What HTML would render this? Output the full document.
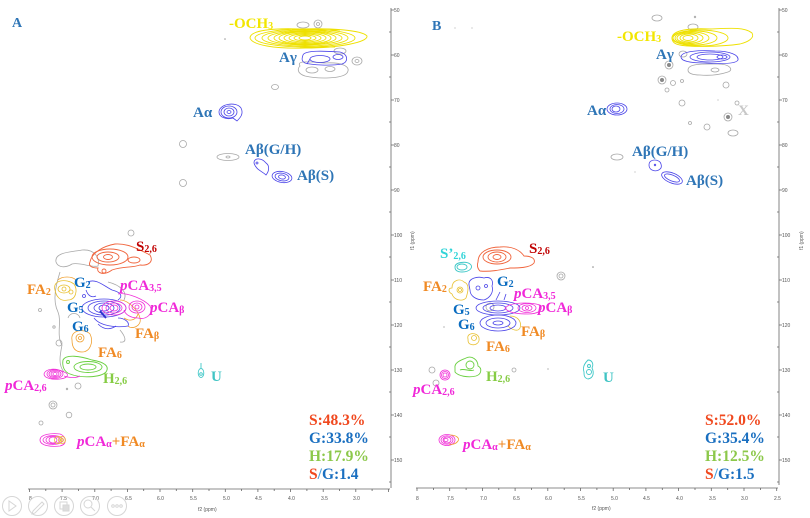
<!DOCTYPE html>
<html><head><meta charset="utf-8"><style>
html,body{margin:0;padding:0;background:#fff;}
svg{display:block;}
.lb{font-family:"Liberation Serif",serif;font-weight:bold;font-size:15px;}
.tk{font-family:"Liberation Sans",sans-serif;font-size:5px;fill:#555;}
.g{fill:none;stroke:#a8a8a8;stroke-width:0.8;}
.y{fill:none;stroke:#eee000;stroke-width:0.9;}
.bl{fill:none;stroke:#4a44e8;stroke-width:0.8;}
.r{fill:none;stroke:#f0643c;stroke-width:0.9;}
.o{fill:none;stroke:#f0a030;stroke-width:0.8;}
.yo{fill:none;stroke:#e8c030;stroke-width:0.8;}
.m{fill:none;stroke:#f030d8;stroke-width:0.8;}
.gr{fill:none;stroke:#6ad040;stroke-width:0.9;}
.c{fill:none;stroke:#40c8c8;stroke-width:0.9;}
.ax{stroke:#666;stroke-width:0.8;fill:none;}
</style></head><body>
<svg width="810" height="518" viewBox="0 0 810 518" xmlns="http://www.w3.org/2000/svg">
<rect width="810" height="518" fill="#fff"/>

<!-- ========== PANEL A AXES ========== -->
<line class="ax" x1="391" y1="8" x2="391" y2="488"/>
<line class="ax" x1="28" y1="489" x2="390" y2="489"/>
<g class="ax">
<path d="M391 10h3M391 55h3M391 100h3M391 145h3M391 190h3M391 235h3M391 280h3M391 325h3M391 370h3M391 415h3M391 460h3"/>
<path d="M389 32h2M389 77h2M389 122h2M389 167h2M389 212h2M389 257h2M389 302h2M389 347h2M389 392h2M389 437h2M389 482h2"/>
<path d="M29.5 489v3M45.8 489v2M62.1 489v3M78.4 489v2M94.8 489v3M111.1 489v2M127.4 489v3M143.7 489v2M160 489v3M176.3 489v2M192.7 489v3M209 489v2M225.3 489v3M241.6 489v2M257.9 489v3M274.2 489v2M290.6 489v3M306.9 489v2M323.2 489v3M339.5 489v2M355.8 489v3M372.1 489v2M388.4 489v3"/>
</g>
<g class="tk">
<text x="394" y="12">50</text><text x="394" y="57">60</text><text x="394" y="102">70</text><text x="394" y="147">80</text><text x="394" y="192">90</text><text x="394" y="237">100</text><text x="394" y="282">110</text><text x="394" y="327">120</text><text x="394" y="372">130</text><text x="394" y="417">140</text><text x="394" y="462">150</text>
<text x="29" y="500">8</text><text x="60" y="500">7.5</text><text x="92" y="500">7.0</text><text x="125" y="500">6.5</text><text x="157" y="500">6.0</text><text x="190" y="500">5.5</text><text x="223" y="500">5.0</text><text x="255" y="500">4.5</text><text x="288" y="500">4.0</text><text x="321" y="500">3.5</text><text x="353" y="500">3.0</text>
<text x="198" y="511">f2 (ppm)</text>
<text transform="translate(414,250) rotate(-90)">f1 (ppm)</text>
</g>

<!-- toolbar circles -->
<g fill="none" stroke="#d6d6d6" stroke-width="1">
<circle cx="12" cy="506" r="9.5"/><circle cx="38" cy="506" r="9.5"/><circle cx="64" cy="506" r="9.5"/><circle cx="90" cy="506" r="9.5"/><circle cx="117" cy="506" r="9.5"/>
<path d="M9 501v10l7-5z"/>
<path d="M33 511l9-9 2 2-9 9-3 1z"/>
<rect x="60" y="502" width="7" height="7"/><rect x="63" y="505" width="6" height="6" fill="#ddd"/>
<circle cx="88" cy="504" r="4"/><path d="M91 507l4 4"/>
<circle cx="113" cy="506" r="1.3"/><circle cx="117" cy="506" r="1.3"/><circle cx="121" cy="506" r="1.3"/>
</g>

<!-- ========== PANEL A CONTOURS ========== -->
<!-- OCH3 -->
<g class="g">
<ellipse cx="303" cy="25" rx="6" ry="3"/><ellipse cx="318" cy="24" rx="4" ry="4"/><ellipse cx="318" cy="24" rx="1.5" ry="1.5"/>
<ellipse cx="357" cy="61" rx="5" ry="4"/><ellipse cx="357" cy="61" rx="2" ry="1.5"/>
<ellipse cx="340" cy="51" rx="6" ry="3"/>
<path d="M300 66 C296 60 310 62 325 63 C340 62 352 66 347 73 C342 79 318 79 305 76 C296 73 298 68 300 66Z"/>
<ellipse cx="312" cy="70" rx="6" ry="3"/><ellipse cx="330" cy="69" rx="5" ry="2.5"/>
<ellipse cx="275" cy="87" rx="3.5" ry="2.5"/>
<circle cx="183" cy="144" r="3.5"/><circle cx="183" cy="183" r="3.5"/>
<ellipse cx="228" cy="157" rx="11" ry="3.5"/><ellipse cx="228" cy="157" rx="2" ry="1"/>
</g>
<circle cx="225" cy="39" r="0.8" fill="#999"/>
<g class="y">
<path d="M250 38 C250 30 275 28 300 29 C330 28 362 30 367 36 C368 42 340 48 305 48 C275 49 252 45 250 38Z"/>
<ellipse cx="305" cy="38" rx="50" ry="9"/><ellipse cx="305" cy="38" rx="43" ry="8"/><ellipse cx="305" cy="38" rx="37" ry="7"/>
<ellipse cx="305" cy="38" rx="31" ry="6.5"/><ellipse cx="305" cy="38" rx="26" ry="6"/><ellipse cx="305" cy="38" rx="21" ry="5"/>
<ellipse cx="305" cy="38" rx="16" ry="4"/><ellipse cx="305" cy="38" rx="11" ry="3"/><ellipse cx="305" cy="38" rx="6" ry="2"/>
<path d="M292 30 L340 30 M300 47 L335 47"/>
</g>
<!-- Aγ -->
<g class="bl">
<path d="M303 55 C305 50 325 51 340 52 C348 54 349 62 342 64 C330 66 312 65 305 63 C301 61 302 58 303 55Z"/>
<ellipse cx="320" cy="59" rx="10" ry="3.5"/><ellipse cx="338" cy="57" rx="5" ry="2.5"/>
<path d="M307 64 L310 59"/>
</g>
<!-- Aα -->
<g class="bl">
<path d="M219 112 C219 104 236 101 241 108 C244 114 240 118 237 121 L233 118 C226 120 219 117 219 112Z"/>
<ellipse cx="229" cy="112" rx="8" ry="6"/><ellipse cx="229" cy="112" rx="5" ry="4"/><ellipse cx="229" cy="112" rx="2" ry="1.5"/>
</g>
<!-- Aβ -->
<g class="bl">
<path d="M254 163 C254 157 262 158 266 163 C269 165 270 170 266 175 C262 171 256 170 254 163Z"/>
<circle cx="257" cy="163" r="1"/>
<ellipse cx="282" cy="177" rx="10" ry="5.5" transform="rotate(10 282 177)"/>
<ellipse cx="282" cy="177" rx="7" ry="3.8" transform="rotate(10 282 177)"/>
<ellipse cx="282" cy="177" rx="3.5" ry="2" transform="rotate(10 282 177)"/>
</g>

<!-- Lower A -->
<g class="g">
<circle cx="131" cy="233" r="3"/>
<path d="M56 262 C54 252 72 252 82 250 C95 249 100 258 98 266 C92 268 80 262 72 264 C66 268 58 268 56 262Z"/>
<path d="M60 272 C56 285 52 300 58 312 C62 322 56 335 62 345 C60 355 58 365 64 372 M108 282 C120 285 128 292 124 300 M120 330 C125 336 128 343 120 342"/>
<path d="M68 318 C70 312 78 312 80 318"/>
<circle cx="59" cy="343" r="3"/><circle cx="40" cy="310" r="1.5"/><circle cx="54" cy="327" r="1.2"/>
<circle cx="78" cy="386" r="3"/><circle cx="67" cy="389" r="0.8"/>
<circle cx="53" cy="405" r="4"/><circle cx="53" cy="405" r="2"/><circle cx="69" cy="415" r="2.8"/><circle cx="41" cy="423" r="2"/>
</g>
<g class="r">
<path d="M90 262 C92 252 104 246 115 244 C128 243 140 250 150 255 C154 262 148 266 140 265 C132 268 124 266 112 270 C104 276 96 273 98 268 C92 268 88 266 90 262Z"/>
<ellipse cx="110" cy="257" rx="18" ry="8"/><ellipse cx="108" cy="257" rx="11" ry="5"/><ellipse cx="108" cy="257" rx="4.5" ry="2.5"/>
<ellipse cx="134" cy="260" rx="6" ry="3"/><circle cx="104" cy="271" r="2"/>
</g>
<g class="yo">
<path d="M55 290 C52 280 66 278 74 284 C78 290 76 300 68 300 C60 302 56 296 55 290Z"/>
<ellipse cx="64" cy="289" rx="6" ry="4"/><circle cx="64" cy="289" r="2"/><circle cx="71" cy="292" r="2"/>
</g>
<g class="o">
<path d="M58 280 C62 276 72 276 76 280"/>
<path d="M72 340 C70 330 84 328 90 334 C94 342 90 352 82 352 C74 352 72 346 72 340Z"/>
<circle cx="80" cy="338" r="4"/><circle cx="80" cy="338" r="1.5"/>
<path d="M120 300 C128 300 138 310 140 318 C142 326 132 330 128 326 M124 318 C130 322 136 320 138 314"/>
</g>
<g class="bl">
<path d="M88 282 C96 278 104 286 112 290 C120 292 124 296 118 300 M86 290 C88 296 92 298 96 296"/>
<ellipse cx="104" cy="308" rx="22" ry="9"/><ellipse cx="104" cy="308" rx="16" ry="7"/><ellipse cx="104" cy="308" rx="10" ry="5"/><ellipse cx="104" cy="308" rx="5" ry="3"/>
<path d="M94 318 C100 326 116 328 128 326 C130 322 124 318 118 318 M98 324 C104 330 110 330 116 326"/>
<circle cx="84" cy="296" r="1.5"/>
</g>
<path d="M100 311 L106 318" stroke="#3030d0" stroke-width="2"/>
<g class="m">
<ellipse cx="114" cy="308" rx="12" ry="7"/><ellipse cx="114" cy="308" rx="8" ry="5"/><ellipse cx="114" cy="308" rx="4" ry="3"/>
<path d="M118 294 C128 292 145 300 150 306 C154 314 146 320 138 318 C130 318 125 314 124 310"/>
<ellipse cx="137" cy="307" rx="8" ry="6"/><ellipse cx="137" cy="307" rx="5" ry="4"/><ellipse cx="137" cy="307" rx="2" ry="2"/>
</g>
<g class="gr">
<path d="M63 360 C66 354 80 356 92 360 C104 362 110 366 106 372 C100 378 80 378 70 374 C64 372 62 366 63 360Z"/>
<ellipse cx="88" cy="367" rx="14" ry="5.5"/><ellipse cx="88" cy="367" rx="8" ry="3"/><circle cx="68" cy="362" r="1.5"/>
</g>
<g class="m">
<path d="M44 374 C46 368 56 368 64 372 C70 374 68 378 60 379 C52 380 44 378 44 374Z"/>
<ellipse cx="55" cy="374" rx="8" ry="4.5"/><ellipse cx="55" cy="374" rx="6" ry="3.5"/><ellipse cx="55" cy="374" rx="4" ry="2.5"/><ellipse cx="55" cy="374" rx="2" ry="1.5"/>
<path d="M64 376 C70 378 76 378 80 376"/>
</g>
<g class="c">
<ellipse cx="201" cy="373" rx="2.8" ry="4.5"/><circle cx="201" cy="374" r="1.3"/><path d="M201 368 L201 363"/>
</g>
<g class="m">
<path d="M40 440 C40 434 52 433 60 434 C66 436 68 444 60 446 C52 447 40 446 40 440Z"/>
<ellipse cx="53" cy="440" rx="10" ry="4.5"/><ellipse cx="53" cy="440" rx="7" ry="3.8"/><ellipse cx="53" cy="440" rx="4" ry="3"/>
</g>
<g class="yo"><circle cx="58" cy="440" r="3.5"/><circle cx="62" cy="440" r="3.5"/><circle cx="62" cy="440" r="1.5"/></g>

<!-- ========== PANEL A LABELS ========== -->
<g class="lb">
<text x="12" y="27" fill="#2e75b6" font-size="14">A</text>
<text x="229" y="28" fill="#f2e600">-OCH<tspan font-size="10" dy="1">3</tspan></text>
<text x="279" y="62" fill="#2e75b6">Aγ</text>
<text x="193" y="117" fill="#2e75b6">Aα</text>
<text x="245" y="154" fill="#2e75b6">Aβ(G/H)</text>
<text x="297" y="180" fill="#2e75b6">Aβ(S)</text>
<text x="136" y="251" fill="#c00000">S<tspan font-size="10" dy="1">2,6</tspan></text>
<text x="27" y="294" fill="#f08a24">FA<tspan font-size="10" dy="1">2</tspan></text>
<text x="74" y="287" fill="#0a6cc0">G<tspan font-size="10" dy="1">2</tspan></text>
<text x="120" y="290" fill="#f028d8"><tspan font-style="italic">p</tspan>CA<tspan font-size="10" dy="1">3,5</tspan></text>
<text x="67" y="312" fill="#0a6cc0">G<tspan font-size="10" dy="1">5</tspan></text>
<text x="150" y="312" fill="#f028d8"><tspan font-style="italic">p</tspan>CA<tspan font-size="10" dy="1">β</tspan></text>
<text x="72" y="331" fill="#0a6cc0">G<tspan font-size="10" dy="1">6</tspan></text>
<text x="135" y="338" fill="#f08a24">FA<tspan font-size="10" dy="1">β</tspan></text>
<text x="98" y="357" fill="#f08a24">FA<tspan font-size="10" dy="1">6</tspan></text>
<text x="103" y="383" fill="#86cc44">H<tspan font-size="10" dy="1">2,6</tspan></text>
<text x="5" y="390" fill="#f028d8"><tspan font-style="italic">p</tspan>CA<tspan font-size="10" dy="1">2,6</tspan></text>
<text x="211" y="381" fill="#40c4c4">U</text>
<text x="77" y="446" fill="#f028d8"><tspan font-style="italic">p</tspan>CA<tspan font-size="10" dy="1">α</tspan><tspan fill="#f08a24" dy="-1">+FA</tspan><tspan fill="#f08a24" font-size="10" dy="1">α</tspan></text>
<text x="309" y="425" fill="#f0481e" font-size="15.5">S:48.3%</text>
<text x="309" y="443" fill="#1a6fc0" font-size="15.5">G:33.8%</text>
<text x="309" y="461" fill="#8cc84a" font-size="15.5">H:17.9%</text>
<text x="309" y="479" font-size="15.5"><tspan fill="#f0481e">S</tspan><tspan fill="#4aa0e0">/</tspan><tspan fill="#1a6fc0">G:1.4</tspan></text>
</g>

<!-- ========== PANEL B AXES ========== -->
<line class="ax" x1="779" y1="8" x2="779" y2="485"/>
<line class="ax" x1="416" y1="488" x2="778" y2="488"/>
<g class="ax">
<path d="M779 10h3M779 55h3M779 100h3M779 145h3M779 190h3M779 235h3M779 280h3M779 325h3M779 370h3M779 415h3M779 460h3"/>
<path d="M777 32h2M777 77h2M777 122h2M777 167h2M777 212h2M777 257h2M777 302h2M777 347h2M777 392h2M777 437h2M777 482h2"/>
<path d="M417 488v3M433.4 488v2M449.7 488v3M466.1 488v2M482.4 488v3M498.8 488v2M515.1 488v3M531.5 488v2M547.8 488v3M564.2 488v2M580.5 488v3M596.9 488v2M613.2 488v3M629.6 488v2M645.9 488v3M662.3 488v2M678.6 488v3M695 488v2M711.3 488v3M727.7 488v2M744 488v3M760.4 488v2M776.7 488v3"/>
</g>
<g class="tk">
<text x="782" y="12">50</text><text x="782" y="57">60</text><text x="782" y="102">70</text><text x="782" y="147">80</text><text x="782" y="192">90</text><text x="782" y="237">100</text><text x="782" y="282">110</text><text x="782" y="327">120</text><text x="782" y="372">130</text><text x="782" y="417">140</text><text x="782" y="462">150</text>
<text x="416" y="500">8</text><text x="447" y="500">7.5</text><text x="480" y="500">7.0</text><text x="513" y="500">6.5</text><text x="545" y="500">6.0</text><text x="578" y="500">5.5</text><text x="611" y="500">5.0</text><text x="643" y="500">4.5</text><text x="676" y="500">4.0</text><text x="709" y="500">3.5</text><text x="741" y="500">3.0</text><text x="774" y="500">2.5</text>
<text x="592" y="510">f2 (ppm)</text>
<text transform="translate(803,250) rotate(-90)">f1 (ppm)</text>
</g>

<!-- ========== PANEL B CONTOURS ========== -->
<g class="g">
<ellipse cx="657" cy="18" rx="5" ry="3"/><ellipse cx="693" cy="27" rx="5" ry="3"/><circle cx="695" cy="17" r="0.8"/>
<ellipse cx="683" cy="54" rx="4" ry="3"/>
<path d="M688 70 C688 63 705 64 718 64 C730 64 734 70 728 72 C722 74 712 76 700 75 C692 75 688 73 688 70Z"/>
<ellipse cx="715" cy="70" rx="4" ry="2"/>
<circle cx="669" cy="65" r="4"/><circle cx="662" cy="80" r="4"/><circle cx="673" cy="83" r="2.5"/><circle cx="682" cy="81" r="1.5"/>
<circle cx="726" cy="85" r="3"/><circle cx="667" cy="90" r="2"/><circle cx="682" cy="103" r="3"/><circle cx="728" cy="117" r="4"/>
<circle cx="707" cy="127" r="3"/><ellipse cx="733" cy="133" rx="5" ry="3"/><circle cx="690" cy="123" r="1.5"/><circle cx="737" cy="103" r="2"/>
<ellipse cx="617" cy="157" rx="6" ry="3"/>
<circle cx="561" cy="276" r="4"/><circle cx="561" cy="276" r="2"/>
<circle cx="490" cy="307" r="4"/>
<circle cx="432" cy="370" r="3"/><circle cx="436" cy="383" r="3"/><circle cx="514" cy="370" r="2"/>
</g>
<g fill="#888"><circle cx="669" cy="65" r="2"/><circle cx="662" cy="80" r="2"/><circle cx="728" cy="117" r="2"/><circle cx="593" cy="267" r="0.8"/><circle cx="548" cy="369" r="0.6"/><circle cx="455" cy="28" r="0.5"/><circle cx="472" cy="28" r="0.5"/><circle cx="635" cy="172" r="0.5"/><circle cx="718" cy="100" r="0.5"/><circle cx="444" cy="327" r="0.6"/></g>
<g class="y">
<path d="M672 38 C672 30 690 28 710 29 C730 28 745 27 752 33 C755 38 748 42 740 44 C720 47 690 47 680 45 C674 44 672 41 672 38Z"/>
<ellipse cx="700" cy="38" rx="28" ry="8"/><ellipse cx="695" cy="38" rx="22" ry="7"/><ellipse cx="692" cy="38" rx="17" ry="6"/>
<ellipse cx="690" cy="38" rx="13" ry="5"/><ellipse cx="689" cy="38" rx="9" ry="4"/><ellipse cx="688" cy="38" rx="5" ry="2.5"/>
</g>
<g class="bl">
<path d="M681 57 C681 51 700 50 715 51 C730 51 739 55 738 60 C736 64 720 64 705 63 C690 63 681 61 681 57Z"/>
<ellipse cx="710" cy="57" rx="20" ry="5"/><ellipse cx="710" cy="57" rx="13" ry="3"/><ellipse cx="722" cy="57" rx="5" ry="2"/>
<ellipse cx="617" cy="109" rx="10" ry="6"/><ellipse cx="617" cy="109" rx="7" ry="4.5"/><ellipse cx="616" cy="109" rx="4" ry="3"/>
<path d="M649 165 C649 158 660 159 661 164 C663 170 656 172 652 170 C650 169 649 167 649 165Z"/>
<circle cx="655" cy="165" r="0.8"/>
<ellipse cx="672" cy="178" rx="11" ry="5" transform="rotate(22 672 178)"/>
<ellipse cx="672" cy="178" rx="8" ry="3" transform="rotate(22 672 178)"/>
</g>
<g class="c">
<path d="M455 267 C455 262 466 261 470 264 C474 267 470 272 462 272 C457 272 455 270 455 267Z"/>
<ellipse cx="462" cy="267" rx="5" ry="3"/>
</g>
<g class="r">
<path d="M478 262 C478 252 488 247 500 247 C512 246 520 250 524 256 C530 256 536 258 534 263 C530 268 518 268 510 268 C500 270 490 272 480 271 C477 268 477 265 478 262Z"/>
<ellipse cx="497" cy="257" rx="14" ry="7"/><ellipse cx="497" cy="257" rx="9" ry="5"/><ellipse cx="497" cy="257" rx="4" ry="2.5"/>
</g>
<g class="yo">
<path d="M452 288 C452 280 460 278 464 282 C470 284 468 292 466 298 C462 302 454 300 452 294 C448 292 448 288 452 288Z"/>
<circle cx="460" cy="290" r="3"/><circle cx="460" cy="290" r="1.5"/>
<path d="M468 339 C466 332 478 332 479 338 C480 344 474 346 470 344 C468 343 468 341 468 339Z"/>
<circle cx="474" cy="338" r="2.5"/>
<path d="M510 316 C518 316 522 322 520 328 C518 332 512 330 508 326"/>
</g>
<g class="bl">
<path d="M469 285 C468 278 478 276 484 278 C490 276 494 280 492 286 C494 292 490 298 484 300 C476 300 470 296 470 290Z"/>
<circle cx="478" cy="288" r="2"/><circle cx="486" cy="286" r="1.5"/>
<ellipse cx="498" cy="308" rx="22" ry="7"/><ellipse cx="498" cy="308" rx="15" ry="5"/><ellipse cx="498" cy="308" rx="8" ry="3"/>
<ellipse cx="498" cy="323" rx="18" ry="8"/><ellipse cx="498" cy="323" rx="12" ry="5"/><ellipse cx="498" cy="323" rx="5" ry="2"/>
<path d="M496 300 L500 292 M504 300 L506 294"/>
</g>
<g class="m">
<path d="M505 308 C510 302 530 302 540 305 C544 310 538 314 528 314 C518 314 508 313 505 308Z"/>
<ellipse cx="527" cy="308" rx="9" ry="4.5"/><ellipse cx="527" cy="308" rx="5" ry="3"/><circle cx="527" cy="308" r="1.5"/>
</g>
<g class="gr">
<path d="M455 368 C454 362 462 360 466 358 C472 355 478 360 478 366 C482 368 482 374 476 376 C468 378 458 376 455 372Z"/>
<circle cx="470" cy="365" r="4"/><path d="M460 370 C464 368 470 372 474 370"/>
</g>
<g class="m">
<ellipse cx="445" cy="375" rx="5" ry="5"/><ellipse cx="445" cy="375" rx="3.5" ry="3.5"/><circle cx="445" cy="375" r="2"/>
</g>
<g class="c">
<path d="M584 372 C582 366 586 362 588 360 C592 360 594 364 592 368 C594 372 594 378 588 379 C584 378 584 375 584 372Z"/>
<circle cx="589" cy="372" r="2.5"/><circle cx="589" cy="366" r="1.5"/>
</g>
<g class="m">
<ellipse cx="447" cy="440" rx="8" ry="5.5"/><ellipse cx="447" cy="440" rx="6" ry="4.2"/><ellipse cx="447" cy="440" rx="4" ry="3"/><ellipse cx="446" cy="440" rx="2" ry="1.6"/>
</g>
<g class="o"><path d="M450 435 C456 435 460 438 458 441 C456 444 452 445 449 444"/></g>

<!-- ========== PANEL B LABELS ========== -->
<g class="lb">
<text x="432" y="30" fill="#2e75b6" font-size="14">B</text>
<text x="617" y="41" fill="#f2e600">-OCH<tspan font-size="10" dy="1">3</tspan></text>
<text x="656" y="59" fill="#2e75b6">Aγ</text>
<text x="587" y="115" fill="#2e75b6">Aα</text>
<text x="632" y="156" fill="#2e75b6">Aβ(G/H)</text>
<text x="686" y="185" fill="#2e75b6">Aβ(S)</text>
<text x="738" y="115" fill="#c8c8c8">X</text>
<text x="440" y="258" fill="#30d4d8">S’<tspan font-size="10" dy="1">2,6</tspan></text>
<text x="529" y="253" fill="#c00000">S<tspan font-size="10" dy="1">2,6</tspan></text>
<text x="423" y="291" fill="#f08a24">FA<tspan font-size="10" dy="1">2</tspan></text>
<text x="497" y="286" fill="#0a6cc0">G<tspan font-size="10" dy="1">2</tspan></text>
<text x="514" y="298" fill="#f028d8"><tspan font-style="italic">p</tspan>CA<tspan font-size="10" dy="1">3,5</tspan></text>
<text x="453" y="314" fill="#0a6cc0">G<tspan font-size="10" dy="1">5</tspan></text>
<text x="538" y="312" fill="#f028d8"><tspan font-style="italic">p</tspan>CA<tspan font-size="10" dy="1">β</tspan></text>
<text x="458" y="329" fill="#0a6cc0">G<tspan font-size="10" dy="1">6</tspan></text>
<text x="521" y="336" fill="#f08a24">FA<tspan font-size="10" dy="1">β</tspan></text>
<text x="486" y="351" fill="#f08a24">FA<tspan font-size="10" dy="1">6</tspan></text>
<text x="486" y="381" fill="#86cc44">H<tspan font-size="10" dy="1">2,6</tspan></text>
<text x="413" y="394" fill="#f028d8"><tspan font-style="italic">p</tspan>CA<tspan font-size="10" dy="1">2,6</tspan></text>
<text x="603" y="382" fill="#40c4c4">U</text>
<text x="463" y="449" fill="#f028d8"><tspan font-style="italic">p</tspan>CA<tspan font-size="10" dy="1">α</tspan><tspan fill="#f08a24" dy="-1">+FA</tspan><tspan fill="#f08a24" font-size="10" dy="1">α</tspan></text>
<text x="705" y="425" fill="#f0481e" font-size="15.5">S:52.0%</text>
<text x="705" y="443" fill="#1a6fc0" font-size="15.5">G:35.4%</text>
<text x="705" y="461" fill="#8cc84a" font-size="15.5">H:12.5%</text>
<text x="705" y="479" font-size="15.5"><tspan fill="#f0481e">S</tspan><tspan fill="#4aa0e0">/</tspan><tspan fill="#1a6fc0">G:1.5</tspan></text>
</g>
</svg>
</body></html>
